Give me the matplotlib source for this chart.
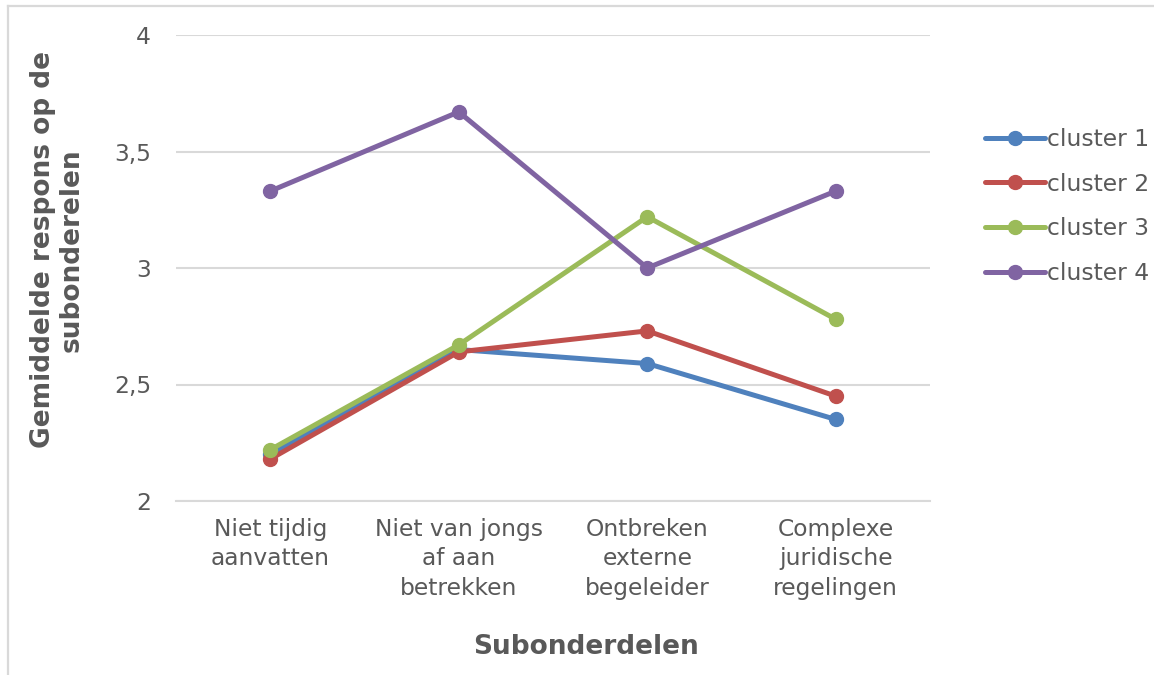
import matplotlib.pyplot as plt
from matplotlib.lines import Line2D

# Categorieën op de x-as en gemiddelde respons per cluster
subonderdelen = ["Niet tijdig\naanvatten", "Niet van jongs\naf aan\nbetrekken",
                 "Ontbreken\nexterne\nbegeleider", "Complexe\njuridische\nregelingen"]
cluster_1 = [2.20, 2.65, 2.59, 2.35]
cluster_2 = [2.18, 2.64, 2.73, 2.45]
cluster_3 = [2.22, 2.67, 3.22, 2.78]
cluster_4 = [3.33, 3.67, 3.00, 3.33]

y_ticks = [2, 2.5, 3, 3.5, 4]
y_tick_labels = ["2", "2,5", "3", "3,5", "4"]

reeksen = [("cluster 1", cluster_1, "#4F81BD"),
           ("cluster 2", cluster_2, "#C0504D"),
           ("cluster 3", cluster_3, "#9BBB59"),
           ("cluster 4", cluster_4, "#8064A2")]

tekst_kleur = "#595959"
raster_kleur = "#D9D9D9"

plt.rcParams['font.family'] = ['DejaVu Sans']

fig = plt.figure(figsize=(11.54, 6.75), dpi=100)
ax = fig.add_axes([176 / 1154, 1 - 501 / 675, (930 - 176) / 1154, (501 - 35) / 675])

x = list(range(len(subonderdelen)))
for naam, waarden, kleur in reeksen:
    ax.plot(x, waarden, color=kleur, lw=3.6, marker='o', markersize=10,
            solid_capstyle='round', label=naam)

ax.set_xlim(-0.5, len(subonderdelen) - 0.5)
ax.set_ylim(2, 4)
ax.set_yticks(y_ticks)
ax.set_yticklabels(y_tick_labels)
ax.set_xticks(x)
ax.set_xticklabels(subonderdelen, linespacing=1.36)
ax.grid(axis='y', color=raster_kleur, lw=1.5)
ax.set_axisbelow(True)

for kant in ['top', 'right', 'left']:
    ax.spines[kant].set_visible(False)
ax.spines['bottom'].set_color(raster_kleur)
ax.spines['bottom'].set_linewidth(1.5)

ax.tick_params(axis='both', length=0, labelsize=16.8, labelcolor=tekst_kleur)
ax.tick_params(axis='y', pad=18)
ax.tick_params(axis='x', pad=12)

# astitels met vaste positie
ax.set_xlabel("Subonderdelen", fontsize=19, fontweight='bold', color=tekst_kleur)
ax.xaxis.set_label_coords((586 - 176) / 754, (501 - 647) / 466)
ax.xaxis.label.set_verticalalignment('center')
ax.set_ylabel("Gemiddelde respons op de\nsubonderelen", fontsize=19, fontweight='bold',
              color=tekst_kleur, linespacing=1.12)
ax.yaxis.set_label_coords((57 - 176) / 754, (501 - 250) / 466)
ax.yaxis.label.set_verticalalignment('center')

fig.legend(loc='center left', bbox_to_anchor=(985 / 1154, 1 - 206.5 / 675), frameon=False,
           fontsize=16.8, labelcolor=tekst_kleur, handlelength=2.55, handletextpad=0.1,
           labelspacing=0.93, borderpad=0, borderaxespad=0)

# kader rond het diagram
fig.add_artist(Line2D([7.5 / 1154, 7.5 / 1154], [0, 1 - 5.5 / 675], color=raster_kleur, lw=1.6))
fig.add_artist(Line2D([7.5 / 1154, 1], [1 - 5.5 / 675, 1 - 5.5 / 675], color=raster_kleur, lw=1.6))

fig.savefig("out.png", dpi=100)
